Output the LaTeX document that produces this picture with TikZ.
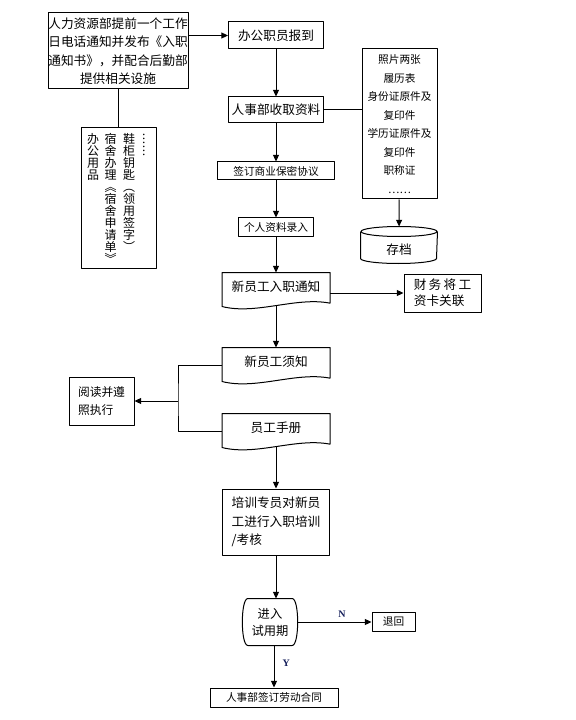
\documentclass[tikz,border=0pt]{standalone}
\usepackage{fontspec}
\setmainfont{Noto Sans CJK SC}
\newfontfamily\latinserif{Liberation Serif}
\usetikzlibrary{arrows.meta,positioning}

\definecolor{flagblue}{RGB}{20,30,90}
\newcommand\bigfont{\fontsize{9.5}{13.8}\selectfont}
\newcommand\smallfont{\fontsize{8}{13.9}\selectfont}
\newcommand\vfont{\fontsize{9}{9}\selectfont}
% one column of upright characters, 9pt apart
\newcommand\vcol[1]{\vtop{\baselineskip=9pt\lineskiplimit=-\maxdimen\halign{\hfil##\hfil\cr#1\crcr}}}
% outline of a document box (wavy bottom)
\newcommand\docline[1]{%
  \draw (#1.north west) -- (#1.north east) -- ([yshift=4pt]#1.south east)
    .. controls ([xshift=15pt,yshift=9pt]#1.south) and ([xshift=-15pt,yshift=-5pt]#1.south)
    .. ([yshift=1.5pt]#1.south west) -- cycle;}

\tikzset{
  box/.style={draw, rectangle, inner sep=0pt, align=center, font=\bigfont},
  boxsize/.style 2 args={minimum width=#1*0.75pt, minimum height=#2*0.75pt},
  docbox/.style={box, draw=none, text height=7pt, text depth=5pt},
  flag/.style={font=\latinserif\bfseries\fontsize{7.5}{8}\selectfont, text=flagblue, inner sep=0pt}
}

\begin{document}
\begin{tikzpicture}[x=0.75pt, y=-0.75pt, line width=0.75pt, line join=round, >={Triangle[length=5pt,width=4.5pt]}]
\useasboundingbox (0,0) rectangle (575,720);

% top part
\node[box, boxsize={140}{76}] (notice) at (118,51) {人力资源部提前一个工作\\日电话通知并发布《入职\\通知书》，并配合后勤部\\提供相关设施};
\node[box, boxsize={75}{141}, font=\vfont] (items) at (118.5,198) {\vcol{办\cr 公\cr 用\cr 品}\hspace{4pt}\vcol{宿\cr 舍\cr 办\cr 理\cr ︽\cr 宿\cr 舍\cr 申\cr 请\cr 单\cr ︾}\hspace{5pt}\vcol{鞋\cr 柜\cr 钥\cr 匙\cr ︵\cr 领\cr 用\cr 签\cr 字\cr ︶}\hspace{2pt}\vcol{︙\cr ︙}};
\node[box, boxsize={95}{27}] (report) at (276,35.5) {办公职员报到};
\node[box, boxsize={95}{26}] (collect) at (276,110) {人事部收取资料};
\node[box, boxsize={75}{150}, font=\smallfont] (papers) at (399.5,124) {照片两张\\履历表\\身份证原件及\\复印件\\学历证原件及\\复印件\\职称证\\……};
\node[boxsize={76}{36}, inner sep=0pt, font=\bigfont, text height=14pt, text depth=0pt] (archive) at (399,245) {存档};
\node[box, boxsize={117}{18}, font=\smallfont] (secret) at (276,171) {签订商业保密协议};
\node[box, boxsize={75}{18}, font=\smallfont] (entry) at (276,227) {个人资料录入};

% middle part
\node[docbox, boxsize={107}{35}] (notify) at (276,290.5) {新员工入职通知};
\node[box, boxsize={77}{38}, text width=43pt, align=left, font=\fontsize{9.5}{12}\selectfont] (payroll) at (442.5,293) {财\hfill 务\hfill 将\hfill 工\\资卡关联};
\node[docbox, boxsize={107}{35}] (guide) at (276,365.5) {新员工须知};
\node[docbox, boxsize={107}{35}] (manual) at (276,431.5) {员工手册};
\node[box, boxsize={65}{48}, text width=35.2pt, align=left, font=\fontsize{8.8}{14}\selectfont] (read) at (101.5,401) {阅读并遵\\照执行};

% bottom part
\node[box, boxsize={107}{66}, text width=66.5pt, align=left, font=\fontsize{9.5}{13.9}\selectfont] (train) at (276,522) {培训专员对新员\\工进行入职培训\\/考核};
\node[boxsize={54}{46}, inner sep=0pt, align=center, font=\fontsize{9.2}{12.75}\selectfont] (trial) at (270,622) {进入\\试用期};
\node[box, boxsize={43}{19}, font=\smallfont] (back) at (393.5,622) {退回};
\node[box, boxsize={128}{19}, font=\smallfont] (contract) at (274,697.5) {人事部签订劳动合同};

% outlines
\docline{notify}
\docline{guide}
\docline{manual}
\draw ([xshift=4pt]trial.north west) -- ([xshift=-4pt]trial.north east)
  .. controls ([xshift=1.5pt]trial.north east) and ([xshift=1.5pt]trial.south east) .. ([xshift=-4pt]trial.south east)
  -- ([xshift=4pt]trial.south west)
  .. controls ([xshift=-1.5pt]trial.south west) and ([xshift=-1.5pt]trial.north west) .. cycle;
\draw ([yshift=-3.75pt]archive.north) ellipse [x radius=28.5pt, y radius=3.75pt];
\draw ([yshift=-3.75pt]archive.north west) -- ([yshift=3.75pt]archive.south west)
  arc [start angle=180, end angle=360, x radius=28.5pt, y radius=3.75pt] -- ([yshift=-3.75pt]archive.north east);

% connectors
\draw[->] (notice.east |- report) -- (report);
\draw (notice.south -| items.north) -- (items.north);
\draw[->] (report) -- (collect);
\draw (collect) -- (collect -| papers.west);
\draw[->] (papers) -- (archive);
\draw[->] (collect) -- (secret);
\draw[->] (secret) -- (entry);
\draw[->] (entry) -- (notify);
\draw[->] (notify.east |- payroll) -- (payroll);
\draw[->] ([yshift=2.2pt]notify.south) -- (guide);
\coordinate (join) at (178,401);
\draw (guide.west) -| (join) |- (manual.west);
\draw[->] (join) -- (read);
\draw[->] ([yshift=2.2pt]manual.south) -- (train);
\draw[->] (train.south) -- (train.south |- trial.north);
\draw[->] (trial) -- node[flag, above=3pt, pos=0.6] (no) {N} (back);
\draw[->] (trial.south -| contract.north) -- node[flag, right=6pt, pos=0.42] (yes) {Y} (contract.north);
\end{tikzpicture}
\end{document}
